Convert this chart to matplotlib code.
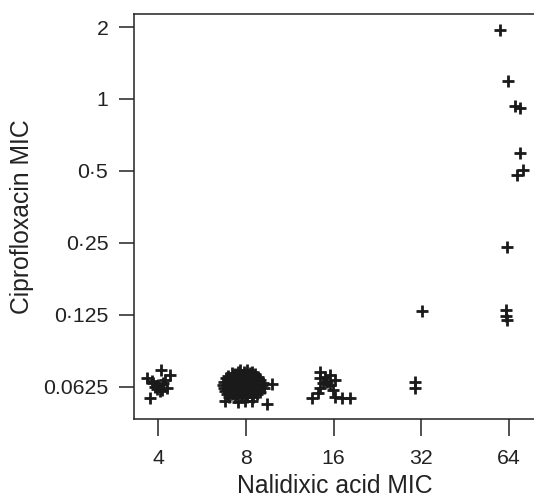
import matplotlib
matplotlib.use("Agg")
import matplotlib.pyplot as plt
from matplotlib.ticker import FixedLocator, FixedFormatter, NullLocator

plt.rcParams['font.family'] = ['Liberation Sans', 'DejaVu Sans']

# jittered MIC values (nalidixic acid, ciprofloxacin)
nal_4 = [3.65, 3.80, 4.07, 4.38, 4.20, 3.84, 4.00, 4.16, 4.27, 4.11, 3.95, 4.05, 3.74, 3.89]
cip_4 = [0.0683, 0.0660, 0.0736, 0.0700, 0.0665, 0.0647, 0.0638, 0.0647, 0.0617, 0.0608,
         0.0610, 0.0600, 0.0563, 0.0626]

nal_8 = [7.63, 8.06, 8.39,
         7.16, 7.50, 7.87, 8.26, 8.59,
         7.33, 7.94, 8.52,
         6.94, 7.22, 7.51, 7.81, 8.13, 8.46, 8.80,
         6.83, 7.10, 7.39, 7.69, 8.00, 8.32, 8.66, 8.94,
         7.05, 7.63, 8.19, 8.73,
         6.72, 6.99, 7.27, 7.57, 7.87, 8.19, 8.52, 8.87, 9.15,
         6.67, 6.88, 7.16, 7.45, 7.75, 8.06, 8.39, 8.73, 9.08,
         7.00, 7.57, 8.13, 8.66, 8.94,
         6.72, 6.99, 7.27, 7.57, 7.87, 8.19, 8.52, 8.87, 9.22,
         6.78, 7.05, 7.33, 7.63, 7.94, 8.26, 8.59, 8.94,
         7.22, 7.81, 8.32,
         6.88, 7.16, 7.45, 7.75, 8.06, 8.39, 8.73,
         6.99, 7.33, 7.69, 8.06, 8.46,
         6.78, 7.51, 7.94, 8.39,
         9.42, 9.80]
cip_8 = [0.0738, 0.0732, 0.0722,
         0.0712, 0.0718, 0.0720, 0.0715, 0.0708,
         0.0706, 0.0707, 0.0704,
         0.0692, 0.0698, 0.0694, 0.0700, 0.0696, 0.0690, 0.0685,
         0.0678, 0.0673, 0.0677, 0.0672, 0.0676, 0.0674, 0.0679, 0.0670,
         0.0665, 0.0666, 0.0664, 0.0665,
         0.0654, 0.0658, 0.0655, 0.0659, 0.0653, 0.0657, 0.0655, 0.0660, 0.0652,
         0.0639, 0.0635, 0.0638, 0.0634, 0.0640, 0.0636, 0.0638, 0.0633, 0.0637,
         0.0628, 0.0627, 0.0629, 0.0628, 0.0626,
         0.0617, 0.0621, 0.0618, 0.0620, 0.0616, 0.0619, 0.0622, 0.0615, 0.0618,
         0.0603, 0.0599, 0.0602, 0.0598, 0.0601, 0.0604, 0.0600, 0.0597,
         0.0592, 0.0591, 0.0593,
         0.0586, 0.0582, 0.0585, 0.0583, 0.0587, 0.0581, 0.0584,
         0.0569, 0.0566, 0.0570, 0.0565, 0.0568,
         0.0546, 0.0543, 0.0547, 0.0545,
         0.0531, 0.0642]

nal_16 = [14.37, 14.37, 14.95, 15.55, 16.18, 14.72, 15.55, 14.37, 15.93, 13.45, 16.18,
          17.06, 18.21, 14.14, 15.20]
cip_16 = [0.0724, 0.0682, 0.0689, 0.0700, 0.0669, 0.0649, 0.0638, 0.0619, 0.0607, 0.0561,
          0.0568, 0.0560, 0.0560, 0.0590, 0.0655]

nal_32 = [32.3, 30.5, 30.5]
cip_32 = [0.1303, 0.0658, 0.0617]

nal_64 = [59.7, 63.7, 67.2, 69.6, 69.6, 71.8, 68.1, 63.2, 62.6, 62.6, 63.0]
cip_64 = [1.943, 1.193, 0.935, 0.915, 0.596, 0.503, 0.481, 0.2415, 0.131, 0.1237, 0.119]

x_ticks = [4, 8, 16, 32, 64]
x_labels = ['4', '8', '16', '32', '64']
y_ticks = [0.0625, 0.125, 0.25, 0.5, 1, 2]
y_labels = ['0.0625', '0\u00b7125', '0\u00b725', '0\u00b75', '1', '2']

fig = plt.figure(figsize=(5.34, 5.0), dpi=100)
ax = fig.add_axes([134 / 534, 81.5 / 500, 402 / 534, 404.5 / 500])

for xs, ys in [(nal_4, cip_4), (nal_8, cip_8), (nal_16, cip_16), (nal_32, cip_32), (nal_64, cip_64)]:
    ax.plot(xs, ys, linestyle='none', marker='+', markersize=8,
            markeredgewidth=2.0, color='#1a1a1a')

ax.set_xscale('log', base=2)
ax.set_yscale('log', base=2)
ax.set_xlim(3.298, 79.3)
ax.set_ylim(0.0461, 2.267)

ax.xaxis.set_major_locator(FixedLocator(x_ticks))
ax.xaxis.set_major_formatter(FixedFormatter(x_labels))
ax.xaxis.set_minor_locator(NullLocator())
ax.yaxis.set_major_locator(FixedLocator(y_ticks))
ax.yaxis.set_major_formatter(FixedFormatter(y_labels))
ax.yaxis.set_minor_locator(NullLocator())

for side in ['top', 'left', 'bottom']:
    ax.spines[side].set_linewidth(1.1)
    ax.spines[side].set_color('#222222')
ax.spines['right'].set_visible(False)

ax.tick_params(axis='y', direction='out', length=10.5, width=1.1, color='#222222',
               labelsize=15.3, labelcolor='#222222', pad=8)
ax.tick_params(axis='x', direction='out', length=12, width=1.1, color='#222222',
               labelsize=15.3, labelcolor='#222222', pad=10)

ax.set_xlabel('Nalidixic acid MIC', fontsize=17.8, color='#222222', va='center')
ax.xaxis.set_label_coords(0.5, (418.5 - 486) / 404.5)
ax.set_ylabel('Ciprofloxacin MIC', fontsize=17.8, color='#222222', va='center')
ax.yaxis.set_label_coords((22 - 134) / 402, 0.5)

fig.savefig('out.png', dpi=100)
